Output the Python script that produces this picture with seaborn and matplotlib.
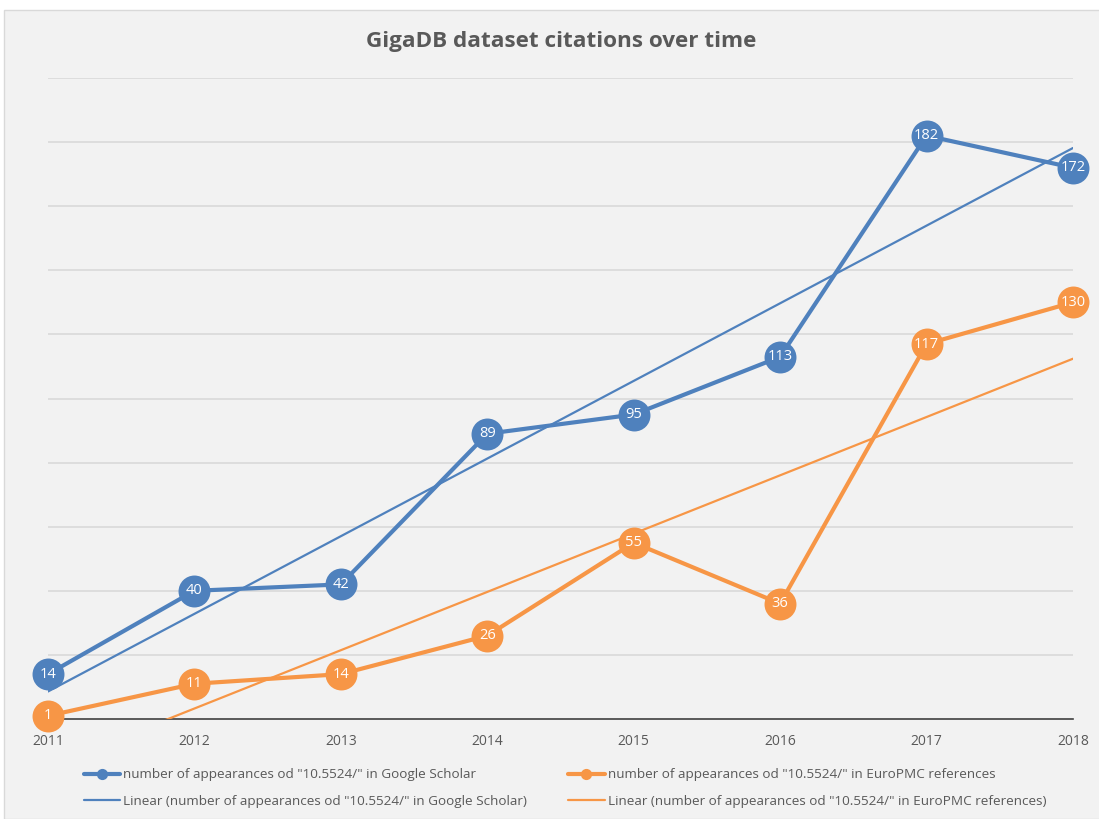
import matplotlib.pyplot as plt
import pandas as pd
import seaborn as sns
from matplotlib.patches import Rectangle

years = [2011, 2012, 2013, 2014, 2015, 2016, 2017, 2018]
google_scholar = [14, 40, 42, 89, 95, 113, 182, 172]
europmc = [1, 11, 14, 26, 55, 36, 117, 130]

label_gs = 'number of appearances od "10.5524/" in Google Scholar'
label_epmc = 'number of appearances od "10.5524/" in EuroPMC references'

blue = '#4f81bd'
orange = '#f79646'
grey_text = '#595959'

df = pd.DataFrame({'year': years, 'gs': google_scholar, 'epmc': europmc})

sns.set_style('white')
plt.rcParams['font.family'] = ['Open Sans', 'DejaVu Sans']

fig = plt.figure(figsize=(10.99, 8.19), dpi=100)
fig.patches.append(Rectangle((4 / 1099, 0), 1.0, 1 - 10 / 819, transform=fig.transFigure,
                             facecolor='#f2f2f2', edgecolor='#d9d9d9', linewidth=1, zorder=-10))

ax = fig.add_axes([48 / 1099, 1 - 719 / 819, (1073 - 48) / 1099, (719 - 78) / 819])
ax.set_facecolor('none')

# data lines
sns.lineplot(data=df, x='year', y='gs', ax=ax, color=blue, linewidth=3, marker='o',
             markersize=23, markeredgewidth=0, label=label_gs, clip_on=False, zorder=5)
sns.lineplot(data=df, x='year', y='epmc', ax=ax, color=orange, linewidth=3, marker='o',
             markersize=23, markeredgewidth=0, label=label_epmc, clip_on=False, zorder=5)

# linear trendlines
sns.regplot(data=df, x='year', y='gs', ax=ax, scatter=False, ci=None, color=blue,
            label='Linear (' + label_gs + ')', line_kws={'linewidth': 1.6, 'zorder': 3})
sns.regplot(data=df, x='year', y='epmc', ax=ax, scatter=False, ci=None, color=orange,
            label='Linear (' + label_epmc + ')', line_kws={'linewidth': 1.6, 'zorder': 3})

for x, y in zip(years, google_scholar):
    ax.text(x, y, str(y), color='white', ha='center', va='center', fontsize=10.5, zorder=6)
for x, y in zip(years, europmc):
    ax.text(x, y, str(y), color='white', ha='center', va='center', fontsize=10.5, zorder=6)

ax.set_xlim(2011, 2018)
ax.set_ylim(0, 200)
ax.set_xticks(years)
ax.set_xticklabels([str(y) for y in years])
ax.set_yticks(range(20, 201, 20))
ax.set_yticklabels([])
ax.tick_params(axis='y', length=0)
ax.tick_params(axis='x', length=0, colors=grey_text, labelsize=10, pad=11)
ax.grid(axis='y', color='#d9d9d9', linewidth=1.2)
ax.set_axisbelow(True)
for s in ['top', 'right', 'left']:
    ax.spines[s].set_visible(False)
ax.spines['bottom'].set_color('#404040')
ax.spines['bottom'].set_linewidth(1.2)
ax.set_xlabel('')
ax.set_ylabel('')

fig.text(561 / 1099, 1 - 41 / 819, 'GigaDB dataset citations over time', ha='center', va='center',
         fontsize=16.2, fontweight='bold', color=grey_text)

if ax.get_legend() is not None:
    ax.get_legend().remove()
by_label = {}
for ln in ax.get_lines():
    lab = ln.get_label()
    if not lab.startswith('_'):
        by_label[lab] = ln
wanted = [label_gs, 'Linear (' + label_gs + ')', label_epmc, 'Linear (' + label_epmc + ')']
handles = [by_label[w] for w in wanted if w in by_label]
labels = [w for w in wanted if w in by_label]
leg = fig.legend(handles, labels, ncol=2,
                 loc='center left', bbox_to_anchor=(84 / 1099, 1 - 788 / 819), frameon=False,
                 borderpad=0, borderaxespad=0,
                 fontsize=9.7, markerscale=0.35, handlelength=2.7, handletextpad=0.22,
                 columnspacing=3.05, labelspacing=1.0)
for t in leg.get_texts():
    t.set_color(grey_text)

fig.savefig('out.png', dpi=100)
